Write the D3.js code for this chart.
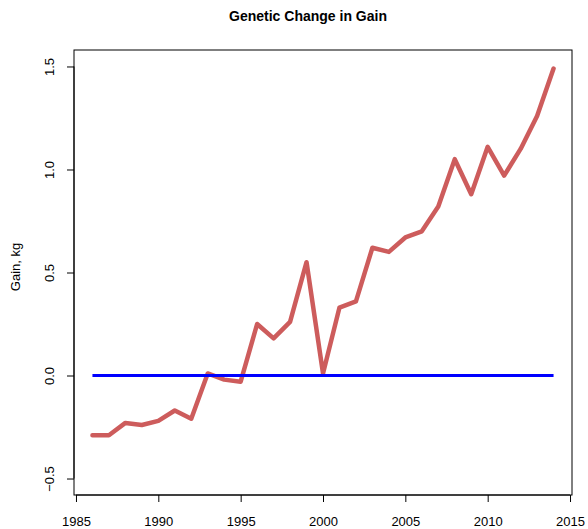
<!DOCTYPE html>
<html>
<head>
<meta charset="utf-8">
<script src="https://cdn.jsdelivr.net/npm/d3@7/dist/d3.min.js"></script>
<style>
  body { margin: 0; background: #fff; }
  text { font-family: "Liberation Sans", Arial, sans-serif; }
</style>
</head>
<body>
<div id="chart"></div>
<script>
const years = d3.range(1986, 2015)
const gain = [-0.29, -0.29, -0.23, -0.24, -0.22, -0.17, -0.21, 0.01, -0.02, -0.03,
  0.25, 0.18, 0.26, 0.55, 0.01, 0.33, 0.36, 0.62, 0.60, 0.67,
  0.70, 0.82, 1.05, 0.88, 1.11, 0.97, 1.10, 1.26, 1.49]
const baseline = years.map(_ => 0)
const xTicks = [1985, 1990, 1995, 2000, 2005, 2010, 2015]
const yTicks = [-0.5, 0.0, 0.5, 1.0, 1.5]

const width = 588, height = 529
const box = { left: 74, right: 572, top: 50, bottom: 495 }

const svg = d3.select("#chart").append("svg")
  .attr("width", width)
  .attr("height", height)

// R style: range extended by 4% on each side
const xPad = (2014 - 1986) * 0.04
const x = d3.scaleLinear().domain([1986 - xPad, 2014 + xPad]).range([box.left, box.right])
const y = d3.scaleLinear().domain([-0.5 - 0.08, 1.5 + 0.08]).range([box.bottom, box.top])

const line = d3.line()
  .x((d, i) => x(years[i]))
  .y(d => y(d))

svg.append("path")
  .datum(gain)
  .attr("d", line)
  .attr("fill", "none")
  .attr("stroke", "#CD5C5C")
  .attr("stroke-width", 4.5)
  .attr("stroke-linejoin", "round")
  .attr("stroke-linecap", "round")

svg.append("path")
  .datum(baseline)
  .attr("d", line)
  .attr("fill", "none")
  .attr("stroke", "#0000FF")
  .attr("stroke-width", 3)

// box
svg.append("rect")
  .attr("x", box.left)
  .attr("y", box.top)
  .attr("width", box.right - box.left)
  .attr("height", box.bottom - box.top)
  .attr("fill", "none")
  .attr("stroke", "#000")
  .attr("stroke-width", 1)

// x axis
const xAxis = svg.append("g")
  .attr("transform", `translate(0,${box.bottom})`)
  .call(d3.axisBottom(x).tickValues(xTicks).tickFormat(d3.format("d")).tickSize(7).tickPadding(15))
xAxis.select(".domain").attr("stroke", "#000")
  .attr("d", `M${x(1985)},0H${x(2015)}`)
xAxis.selectAll("text").style("font-size", "13px").attr("fill", "#000")

// y axis, labels rotated like R default
const yAxis = svg.append("g")
  .attr("transform", `translate(${box.left},0)`)
  .call(d3.axisLeft(y).tickValues(yTicks).tickFormat(d3.format(".1f")).tickSize(7))
yAxis.select(".domain").attr("stroke", "#000")
  .attr("d", `M0,${y(-0.5)}V${y(1.5)}`)
yAxis.selectAll("text")
  .style("font-size", "13px")
  .attr("fill", "#000")
  .text(d => d < 0 ? "\u2212" + Math.abs(d).toFixed(1) : d.toFixed(1))
  .attr("x", null).attr("dy", null)
  .attr("text-anchor", "middle")
  .attr("transform", d => `translate(-20,0) rotate(-90)`)

svg.append("text")
  .attr("transform", `translate(20,267) rotate(-90)`)
  .attr("text-anchor", "middle")
  .style("font-size", "13px")
  .text("Gain, kg")

svg.append("text")
  .attr("x", 308)
  .attr("y", 21)
  .attr("text-anchor", "middle")
  .style("font-size", "14px")
  .style("font-weight", "bold")
  .text("Genetic Change in Gain")
</script>
</body>
</html>
